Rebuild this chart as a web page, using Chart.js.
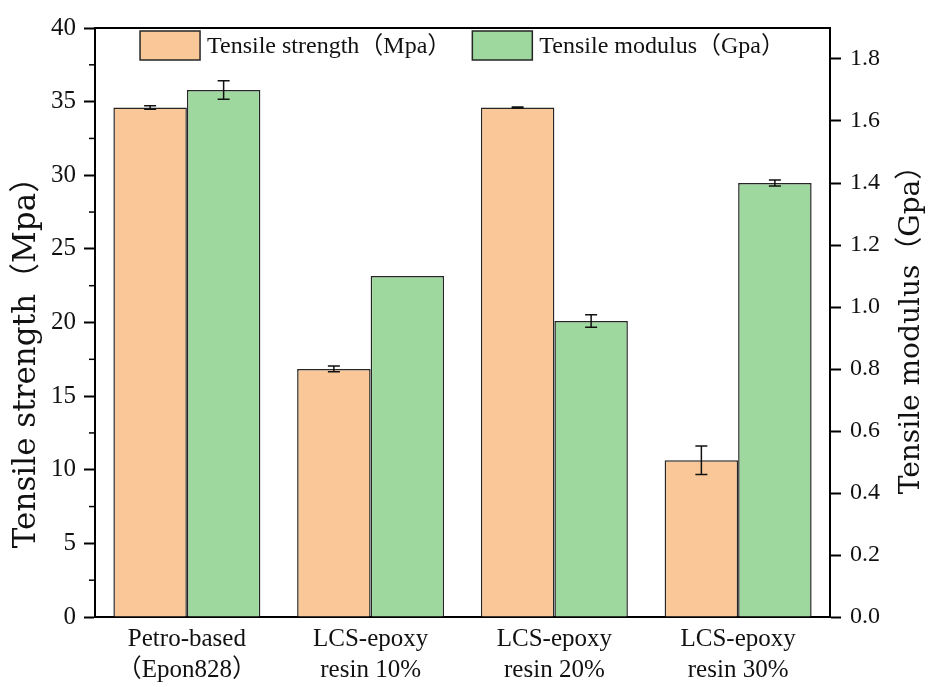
<!DOCTYPE html>
<html>
<head>
<meta charset="utf-8">
<script src="https://cdn.jsdelivr.net/npm/chart.js@4/dist/chart.umd.min.js"></script>
<style>
  html, body { margin: 0; padding: 0; background: #fff; }
  #wrap { width: 928px; height: 687px; position: relative; }
</style>
</head>
<body>
<div id="wrap"><canvas id="c"></canvas></div>
<script>
// Sample groups (two-line axis labels)
const categories = [
  ['Petro-based', '（Epon828）'],
  ['LCS-epoxy', 'resin 10%'],
  ['LCS-epoxy', 'resin 20%'],
  ['LCS-epoxy', 'resin 30%']
];

// Tensile strength (MPa) and its standard deviation
const strength = [34.6, 16.85, 34.6, 10.65];
const strengthErr = [0.12, 0.2, 0.03, 0.97];

// Tensile modulus (GPa) and its standard deviation
const modulus = [1.70, 1.10, 0.955, 1.40];
const modulusErr = [0.03, 0, 0.02, 0.01];

const seriesLabels = ['Tensile strength（Mpa）', 'Tensile modulus（Gpa）'];
const axisTitles = ['Tensile strength（Mpa）', 'Tensile modulus（Gpa）'];

const SERIF = "'Liberation Serif', 'Noto Sans CJK SC', serif";
const TITLE_FONT = "'DejaVu Serif', 'Noto Sans CJK SC', serif";
const ORANGE = 'rgb(250,200,152)';
const GREEN = 'rgb(158,216,158)';
const EDGE = '#262626';

// Error bars drawn on top of each bar from the matching error array
const errorBars = {
  id: 'errorBars',
  afterDatasetsDraw(chart) {
    const ctx = chart.ctx;
    ctx.save();
    ctx.strokeStyle = '#111';
    ctx.lineWidth = 1.5;
    chart.data.datasets.forEach((ds, di) => {
      if (!ds.errors) return;
      const meta = chart.getDatasetMeta(di);
      const scale = chart.scales[ds.yAxisID];
      meta.data.forEach((bar, i) => {
        const e = ds.errors[i];
        if (!e) return;
        const v = ds.data[i];
        const yHi = scale.getPixelForValue(v + e);
        const yLo = scale.getPixelForValue(v - e);
        const x = bar.x, cap = 6;
        ctx.beginPath();
        ctx.moveTo(x, yHi); ctx.lineTo(x, yLo);
        ctx.moveTo(x - cap, yHi); ctx.lineTo(x + cap, yHi);
        ctx.moveTo(x - cap, yLo); ctx.lineTo(x + cap, yLo);
        ctx.stroke();
      });
    });
    ctx.restore();
  }
};

// Plot frame top edge, minor ticks, axis titles (both read bottom-to-top) and the in-plot legend
const frameAndLegend = {
  id: 'frameAndLegend',
  afterDraw(chart) {
    const ctx = chart.ctx;
    const area = chart.chartArea;
    const y = chart.scales.y;
    ctx.save();
    ctx.strokeStyle = '#000';
    ctx.lineWidth = 2;
    ctx.beginPath();
    ctx.moveTo(area.left - 1, area.top);
    ctx.lineTo(area.right + 1, area.top);
    ctx.stroke();

    // minor ticks halfway between major ticks
    ctx.lineWidth = 1.5;
    for (let v = 2.5; v < y.max; v += 5) {
      const py = y.getPixelForValue(v);
      ctx.beginPath();
      ctx.moveTo(area.left - 6, py);
      ctx.lineTo(area.left, py);
      ctx.stroke();
    }

    // axis titles
    const drawTitle = (text, cx, cy, size) => {
      ctx.save();
      ctx.translate(cx, cy);
      ctx.rotate(-Math.PI / 2);
      ctx.font = size + 'px ' + TITLE_FONT;
      ctx.fillStyle = '#111';
      ctx.textAlign = 'center';
      ctx.textBaseline = 'middle';
      ctx.fillText(text, 0, 0);
      ctx.restore();
    };
    drawTitle(axisTitles[0], 27, 355, 31);
    drawTitle(axisTitles[1], 912, 323, 28);

    // legend
    ctx.font = '24px ' + SERIF;
    ctx.textBaseline = 'middle';
    ctx.textAlign = 'left';
    const boxW = 60, boxH = 29, gapText = 7, gapItem = 21;
    const items = chart.data.datasets.map(ds => ({
      label: ds.label, color: ds.backgroundColor, w: ctx.measureText(ds.label).width
    }));
    let total = 0;
    items.forEach((it, i) => { total += boxW + gapText + it.w + (i ? gapItem : 0); });
    let x = (area.left + area.right) / 2 - total / 2;
    const top = area.top + 3;
    items.forEach(it => {
      ctx.fillStyle = it.color;
      ctx.fillRect(x, top, boxW, boxH);
      ctx.strokeStyle = EDGE;
      ctx.lineWidth = 1.5;
      ctx.strokeRect(x, top, boxW, boxH);
      ctx.fillStyle = '#111';
      ctx.fillText(it.label, x + boxW + gapText, top + boxH / 2 + 1);
      x += boxW + gapText + it.w + gapItem;
    });
    ctx.restore();
  }
};

new Chart(document.getElementById('c'), {
  type: 'bar',
  data: {
    labels: categories,
    datasets: [
      {
        label: seriesLabels[0], data: strength, errors: strengthErr, yAxisID: 'y',
        backgroundColor: ORANGE, borderColor: EDGE, borderWidth: 1.5
      },
      {
        label: seriesLabels[1], data: modulus, errors: modulusErr, yAxisID: 'y2',
        backgroundColor: GREEN, borderColor: EDGE, borderWidth: 1.5
      }
    ]
  },
  options: {
    responsive: true,
    maintainAspectRatio: false,
    devicePixelRatio: 1,
    animation: false,
    layout: { padding: { top: 28, left: 0, right: 0, bottom: 0 } },
    datasets: { bar: { categoryPercentage: 0.8, barPercentage: 1.0 } },
    plugins: {
      legend: { display: false },
      tooltip: { enabled: false }
    },
    scales: {
      x: {
        grid: { display: false, drawTicks: false },
        border: { color: '#000', width: 2 },
        ticks: { color: '#111', padding: 7, font: { family: SERIF, size: 25, lineHeight: 1.25 }, maxRotation: 0 },
        afterFit(s) { s.height = 70; }
      },
      y: {
        position: 'left', min: 0, max: 40,
        grid: { drawOnChartArea: false, tickLength: 11, tickColor: '#000', tickWidth: 2 },
        border: { color: '#000', width: 2 },
        ticks: { stepSize: 5, color: '#111', padding: 8, font: { family: SERIF, size: 25 } },
        afterFit(s) { s.width = 95; }
      },
      y2: {
        position: 'right', min: 0, max: 1.9,
        grid: { drawOnChartArea: false, tickLength: 11, tickColor: '#000', tickWidth: 2 },
        border: { color: '#000', width: 2 },
        ticks: {
          stepSize: 0.2, includeBounds: false, color: '#111', padding: 9,
          font: { family: SERIF, size: 24 },
          callback: v => Number(v).toFixed(1)
        },
        afterFit(s) { s.width = 98; }
      }
    }
  },
  plugins: [errorBars, frameAndLegend]
});
</script>
</body>
</html>
